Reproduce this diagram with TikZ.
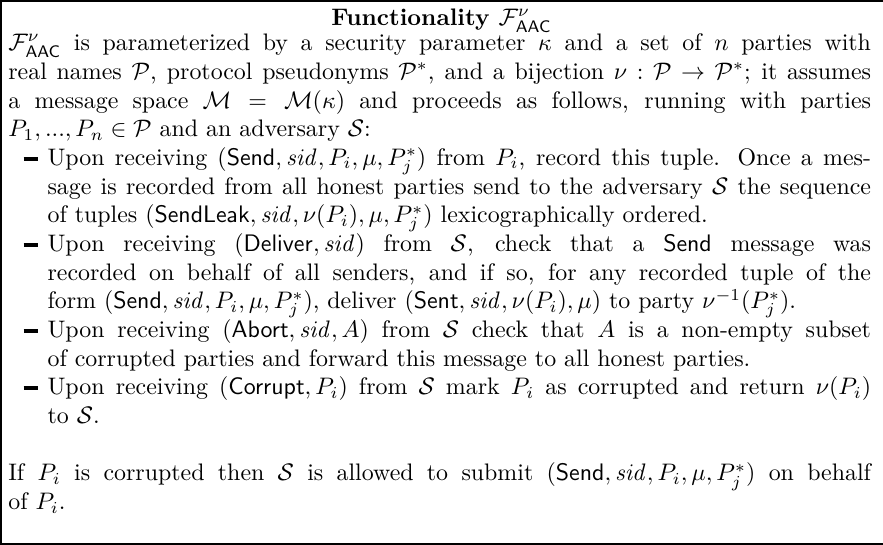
\documentclass[tikz,border=0pt]{standalone}
\usepackage{amsmath,amssymb}
\usetikzlibrary{calc}
\def\Ffunc{\mathcal{F}^{\nu}_{\mathsf{AAC}}}
\def\cmd#1{\mathsf{#1}}
\def\sid{\mathit{sid}}
\def\Pj{P^{*}_{j}}
\def\itemdash{\rule[2.0pt]{6.2pt}{1.5pt}}
\tikzset{
  frame/.style={line width=0.9pt},
  titletext/.style={inner sep=0pt, anchor=base, font=\bfseries},
  bodytext/.style={inner sep=0pt, anchor=north west, text width=361pt, align=justify, font=\fontsize{10}{12}\selectfont}
}

\begin{document}
\begin{tikzpicture}[x=1pt,y=1pt]
			%%%%% START %%%%%
			\useasboundingbox (0, 0) rectangle (369.5, 228);
			
			\draw[frame] (0.45, 0.45) rectangle (372, 227.55);
			
			\node[titletext] (title) at (184.75, 217.4) {Functionality $\Ffunc$};
			
			\node[bodytext] (body) at (3.3, 215.4) {\parindent=0pt\parskip=0pt
				\strut$\Ffunc$ is parameterized by a security parameter $\kappa$ and a set of $n$ parties with\linebreak
				real names $\mathcal{P}$, protocol pseudonyms $\mathcal{P}^*$, and a bijection $\nu:\mathcal{P}\rightarrow\mathcal{P}^*$; it assumes\linebreak
				a message space $\mathcal{M}=\mathcal{M}(\kappa)$ and proceeds as follows, running with parties\linebreak
				$P_1,...,P_n\in\mathcal{P}$ and an adversary $\mathcal{S}$:
				\begin{list}{\itemdash}{\setlength{\leftmargin}{16.4pt}\setlength{\labelsep}{3.8pt}\setlength{\labelwidth}{12.6pt}%
					\setlength{\topsep}{0pt}\setlength{\partopsep}{0pt}\setlength{\itemsep}{0pt}\setlength{\parsep}{0pt}}
				\item Upon receiving $(\cmd{Send},\sid,P_i,\mu,\Pj)$ from $P_i$, record this tuple. Once a mes-\linebreak
				sage is recorded from all honest parties send to the adversary $\mathcal{S}$ the sequence\linebreak
				of tuples $(\cmd{SendLeak},\sid,\nu(P_i),\mu,\Pj)$ lexicographically ordered.
				\item Upon receiving $(\cmd{Deliver},\sid)$ from $\mathcal{S}$, check that a $\cmd{Send}$ message was\linebreak
				recorded on behalf of all senders, and if so, for any recorded tuple of the\linebreak
				form $(\cmd{Send},\sid,P_i,\mu,\Pj)$, deliver $(\cmd{Sent},\sid,\nu(P_i),\mu)$ to party $\nu^{-1}(\Pj)$.
				\item Upon receiving $(\cmd{Abort},\sid,A)$ from $\mathcal{S}$ check that $A$ is a non-empty subset\linebreak
				of corrupted parties and forward this message to all honest parties.
				\item Upon receiving $(\cmd{Corrupt},P_i)$ from $\mathcal{S}$ mark $P_i$ as corrupted and return $\nu(P_i)$\linebreak
				to $\mathcal{S}$.
				\end{list}
				\vspace{12pt}
				If $P_i$ is corrupted then $\mathcal{S}$ is allowed to submit $(\cmd{Send},\sid,P_i,\mu,\Pj)$ on behalf\linebreak
				of $P_i$.};
			
			%%%%% END %%%%%
		\end{tikzpicture}
\end{document}
